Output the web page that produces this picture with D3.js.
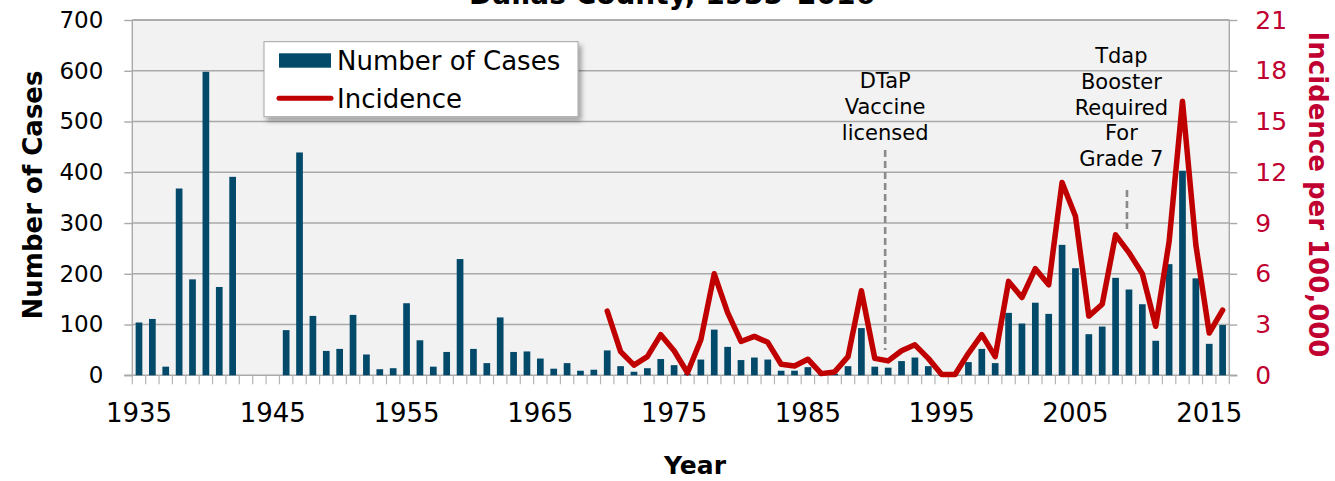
<!DOCTYPE html>
<html><head><meta charset="utf-8">
<script src="https://cdn.jsdelivr.net/npm/d3@7"></script>
<style>
html,body{margin:0;padding:0;background:#fff;}
svg{display:block;font-family:"DejaVu Sans",Verdana,sans-serif;}
</style>
</head><body>
<svg id="chart" width="1335" height="481"></svg>
<script>
// ---------- DATA ----------
const years = ["1935","1936","1937","1938","1939","1940","1941","1942","1943","1944",
"1945","1946","1947","1948","1949","1950","1951","1952","1953","1954",
"1955","1956","1957","1958","1959","1960","1961","1962","1963","1964",
"1965","1966","1967","1968","1969","1970","1971","1972","1973","1974",
"1975","1976","1977","1978","1979","1980","1981","1982","1983","1984",
"1985","1986","1987","1988","1989","1990","1991","1992","1993","1994",
"1995","1996","1997","1998","1999","2000","2001","2002","2003","2004",
"2005","2006","2007","2008","2009","2010","2011","2012","2013","2014",
"2015","2016"];
const cases = [104,111,17,368,189,598,174,391,0,0,
0,89,439,117,48,52,119,41,12,14,
142,69,17,46,229,52,24,114,46,47,
33,13,24,9,11,49,18,7,14,32,
20,3,31,90,56,30,35,31,9,9,
16,2,3,18,93,17,15,28,35,18,
1,1,26,52,24,123,102,143,121,257,
211,81,96,192,169,140,68,219,403,191,
62,99];
const incidenceYears = ["1970","1971","1972","1973","1974","1975","1976","1977","1978","1979",
"1980","1981","1982","1983","1984","1985","1986","1987","1988","1989",
"1990","1991","1992","1993","1994","1995","1996","1997","1998","1999",
"2000","2001","2002","2003","2004","2005","2006","2007","2008","2009",
"2010","2011","2012","2013","2014","2015","2016"];
const incidence = [3.8,1.4,0.6,1.1,2.4,1.45,0.15,2.1,6.0,3.7,
2.0,2.3,1.95,0.65,0.55,0.95,0.1,0.2,1.1,5.0,
1.0,0.85,1.45,1.8,1.0,0.05,0.05,1.3,2.4,1.1,
5.55,4.6,6.3,5.35,11.4,9.4,3.5,4.2,8.3,7.25,
6.0,2.9,7.9,16.2,7.7,2.5,3.85];
const xTickLabels = ["1935","1945","1955","1965","1975","1985","1995","2005","2015"];
const leftTicks = [0,100,200,300,400,500,600,700];
const rightTicks = [0,3,6,9,12,15,18,21];
const seriesNames = ["Number of Cases","Incidence"];
const titleText = "Dallas County, 1935\u20132016";
const annotYears = ["1991","2009"];
const annotLines = [["DTaP","Vaccine","licensed"],["Tdap","Booster","Required","For","Grade 7"]];

// ---------- LAYOUT ----------
const L = 132.3, R = 1229.3, T = 20, B = 375.3;
const barColor = "#02496a", lineColor = "#c00000", redText = "#c00030", gridColor = "#a9a9a9";

const svg = d3.select("#chart");
const x = d3.scaleBand().domain(years).range([L, R]).paddingInner(0.5).paddingOuter(0.25);
const yL = d3.scaleLinear().domain([0, 700]).range([B, T]);
const yR = d3.scaleLinear().domain([0, 21]).range([B, T]);
const cx = d => x(d) + x.bandwidth() / 2;

// plot background
svg.append("rect").attr("x", L).attr("y", T).attr("width", R - L).attr("height", B - T).attr("fill", "#f2f2f2");

// gridlines
svg.append("g").selectAll("line").data(leftTicks.filter(d => d > 0)).join("line")
  .attr("x1", L).attr("x2", R).attr("y1", d => yL(d)).attr("y2", d => yL(d))
  .attr("stroke", gridColor).attr("stroke-width", 1.4);

// left axis
const gL = svg.append("g").attr("transform", `translate(${L},0)`)
  .call(d3.axisLeft(yL).tickValues(leftTicks).tickSize(8).tickPadding(21));
gL.select(".domain").attr("stroke", gridColor).attr("stroke-width", 1.4).attr("d", `M-8,${B}H0V${T}`);
gL.selectAll(".tick line").attr("stroke", gridColor).attr("stroke-width", 1.4);
gL.selectAll(".tick text").attr("fill", "#000").style("font-size", "23px").style("font-family", "'DejaVu Sans',Verdana,sans-serif");

// right axis
const gR = svg.append("g").attr("transform", `translate(${R},0)`)
  .call(d3.axisRight(yR).tickValues(rightTicks).tickSize(8).tickPadding(18));
gR.select(".domain").attr("stroke", gridColor).attr("stroke-width", 1.4).attr("d", `M8,${B}H0V${T}`);
gR.selectAll(".tick line").attr("stroke", gridColor).attr("stroke-width", 1.4);
gR.selectAll(".tick text").attr("fill", redText).style("font-size", "25px").style("font-family", "'DejaVu Sans',Verdana,sans-serif");

// bottom axis: line + ticks at category boundaries
svg.append("line").attr("x1", L).attr("x2", R).attr("y1", B).attr("y2", B).attr("stroke", gridColor).attr("stroke-width", 1.4);
const step = x.step();
svg.append("g").selectAll("line").data(years.concat(["end"])).join("line")
  .attr("x1", (d, i) => L + step * i).attr("x2", (d, i) => L + step * i)
  .attr("y1", B).attr("y2", B + 9).attr("stroke", "#b5b5b5").attr("stroke-width", 1.2);
svg.append("g").selectAll("text").data(xTickLabels).join("text")
  .attr("x", d => cx(d)).attr("y", 422).attr("text-anchor", "middle")
  .style("font-size", "26px").attr("fill", "#000").text(d => d);

// bars
svg.append("g").selectAll("rect").data(years.map((y, i) => ({ y, v: cases[i] })).filter(d => d.v > 0)).join("rect")
  .attr("x", d => x(d.y)).attr("width", x.bandwidth())
  .attr("y", d => yL(d.v)).attr("height", d => yL(0) - yL(d.v))
  .attr("fill", barColor);

// top border
svg.append("line").attr("x1", L).attr("x2", R).attr("y1", T).attr("y2", T).attr("stroke", gridColor).attr("stroke-width", 1.4);

// annotation dashed lines + text
const annotOffsets = [-3, -2];
const annotRanges = [[150, 350], [190, 229]];
const annotTextX = [0, -5.6];
const annotFirstBaseline = [88.3, 63.3];
const annotSpacing = [26, 25.6];
annotYears.forEach((yr, k) => {
  const xx = cx(yr) + annotOffsets[k];
  svg.append("line").attr("x1", xx).attr("x2", xx)
    .attr("y1", annotRanges[k][0]).attr("y2", annotRanges[k][1])
    .attr("stroke", "#8a8a8a").attr("stroke-width", 2.6).attr("stroke-dasharray", "7,4");
  const t = svg.append("text").attr("text-anchor", "middle").style("font-size", "21px").attr("fill", "#000");
  annotLines[k].forEach((ln, j) => {
    t.append("tspan").attr("x", xx + annotTextX[k]).attr("y", annotFirstBaseline[k] + j * annotSpacing[k]).text(ln);
  });
});

// incidence line
const line = d3.line().x((d, i) => cx(incidenceYears[i])).y(d => yR(d));
svg.append("path").datum(incidence).attr("d", line)
  .attr("fill", "none").attr("stroke", lineColor).attr("stroke-width", 5.5)
  .attr("stroke-linejoin", "round").attr("stroke-linecap", "round");

// legend
const defs = svg.append("defs");
const f = defs.append("filter").attr("id", "sh").attr("x", "-10%").attr("y", "-10%").attr("width", "130%").attr("height", "140%");
f.append("feDropShadow").attr("dx", 3).attr("dy", 4).attr("stdDeviation", 2.5).attr("flood-color", "#000").attr("flood-opacity", 0.35);
const lg = svg.append("g");
lg.append("rect").attr("x", 264).attr("y", 41.7).attr("width", 314).attr("height", 75)
  .attr("fill", "#fff").attr("stroke", "#a6a6a6").attr("stroke-width", 1).attr("filter", "url(#sh)");
lg.append("rect").attr("x", 279).attr("y", 53.3).attr("width", 52).attr("height", 14.4).attr("fill", barColor);
lg.append("line").attr("x1", 279).attr("x2", 331).attr("y1", 98.3).attr("y2", 98.3)
  .attr("stroke", lineColor).attr("stroke-width", 5).attr("stroke-linecap", "round");
lg.append("text").attr("x", 337).attr("y", 70).style("font-size", "26px").attr("fill", "#000").text(seriesNames[0]);
lg.append("text").attr("x", 337).attr("y", 107.7).style("font-size", "26px").attr("fill", "#000").text(seriesNames[1]);

// axis titles
svg.append("text").attr("transform", "translate(42,195) rotate(-90)").attr("text-anchor", "middle")
  .style("font-size", "26px").style("font-weight", "bold").attr("fill", "#000").text("Number of Cases");
svg.append("text").attr("transform", "translate(1309,194.5) rotate(90)").attr("text-anchor", "middle")
  .style("font-size", "26px").style("font-weight", "bold").attr("fill", redText).text("Incidence per 100,000");
svg.append("text").attr("x", 695).attr("y", 474).attr("text-anchor", "middle")
  .style("font-size", "25px").style("font-weight", "bold").attr("fill", "#000").text("Year");

// title (mostly clipped at top, as in the reference)
svg.append("text").attr("x", 672).attr("y", 4).attr("text-anchor", "middle")
  .style("font-size", "28px").style("font-weight", "bold").attr("fill", "#000").text(titleText);
</script>
</body></html>
